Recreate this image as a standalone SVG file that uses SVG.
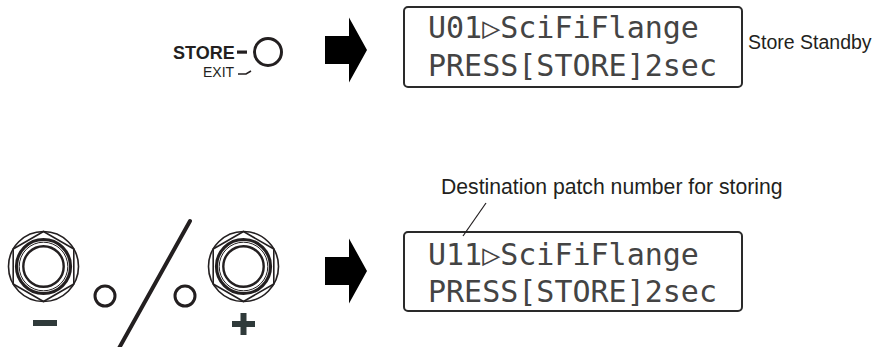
<svg xmlns="http://www.w3.org/2000/svg" width="886" height="347" viewBox="0 0 886 347">
  <defs>
    <style>
      .lcd { fill: #ffffff; stroke: #2a2a2a; stroke-width: 2; }
      .lcdtxt { font-family: "DejaVu Sans Mono", "Liberation Mono", monospace; font-size: 30px; fill: #444444; }
      .lbl { font-family: "Liberation Sans", Arial, sans-serif; fill: #231f20; }
      .arrow { fill: #000000; }
      .ink { fill: none; stroke: #231f20; }
    </style>
    <g id="footswitch">
      <circle r="35" class="ink" stroke-width="1.6"/>
      <polygon points="0,-35 30.3,-17.5 30.3,17.5 0,35 -30.3,17.5 -30.3,-17.5" class="ink" stroke-width="1.6"/>
      <circle r="27" class="ink" stroke-width="3.2"/>
      <circle r="24.3" class="ink" stroke-width="1"/>
      <circle r="20.2" class="ink" stroke-width="2.4"/>
    </g>
    <polygon id="bigarrow" points="0,-14 24,-14 24,-32.5 42,0 24,32.5 24,14 0,14"/>
  </defs>
  <rect width="886" height="347" fill="#ffffff"/>

  <g id="store-button">
    <text class="lbl" x="173" y="59" font-size="18" font-weight="bold">STORE</text>
    <rect x="237" y="50.5" width="10" height="3.2" fill="#231f20"/>
    <circle cx="268" cy="52" r="13.5" class="ink" stroke-width="3"/>
    <text class="lbl" x="203" y="77" font-size="14">EXIT</text>
    <path d="M238,74 H246 L251,71" class="ink" stroke-width="1.5"/>
  </g>

  <g id="lcd-standby">
    <rect x="404" y="7" width="338" height="80" rx="4" class="lcd"/>
    <text class="lcdtxt" x="428" y="38">U01▷SciFiFlange</text>
    <text class="lcdtxt" x="428" y="76">PRESS[STORE]2sec</text>
  </g>
  <g id="label-standby">
    <text class="lbl" x="748" y="49" font-size="19.5">Store Standby</text>
  </g>

  <g id="footswitch-minus">
    <use href="#footswitch" x="43.5" y="266.5"/>
    <rect x="33" y="320" width="24" height="6" fill="#2f3a3a"/>
  </g>
  <g id="separator">
    <circle cx="105" cy="296" r="10" class="ink" stroke-width="3"/>
    <line x1="190" y1="221" x2="118" y2="350" stroke="#231f20" stroke-width="4" stroke-linecap="round"/>
    <circle cx="185" cy="296" r="10" class="ink" stroke-width="3"/>
  </g>
  <g id="footswitch-plus">
    <use href="#footswitch" x="243.5" y="266.5"/>
    <rect x="232" y="321" width="23" height="6" fill="#2f3a3a"/>
    <rect x="240.5" y="313" width="6" height="22" fill="#2f3a3a"/>
  </g>

  <g id="lcd-destination">
    <rect x="404" y="232" width="338" height="79" rx="4" class="lcd"/>
    <text class="lcdtxt" x="428" y="265">U11▷SciFiFlange</text>
    <text class="lcdtxt" x="428" y="302">PRESS[STORE]2sec</text>
  </g>
  <g id="label-destination">
    <text class="lbl" x="441" y="194" font-size="21.2">Destination patch number for storing</text>
  </g>

  <g id="connectors">
    <use href="#bigarrow" class="arrow" x="325" y="50"/>
    <use href="#bigarrow" class="arrow" x="325" y="271"/>
    <line x1="486" y1="203" x2="463" y2="236" stroke="#231f20" stroke-width="1.2"/>
  </g>
</svg>
